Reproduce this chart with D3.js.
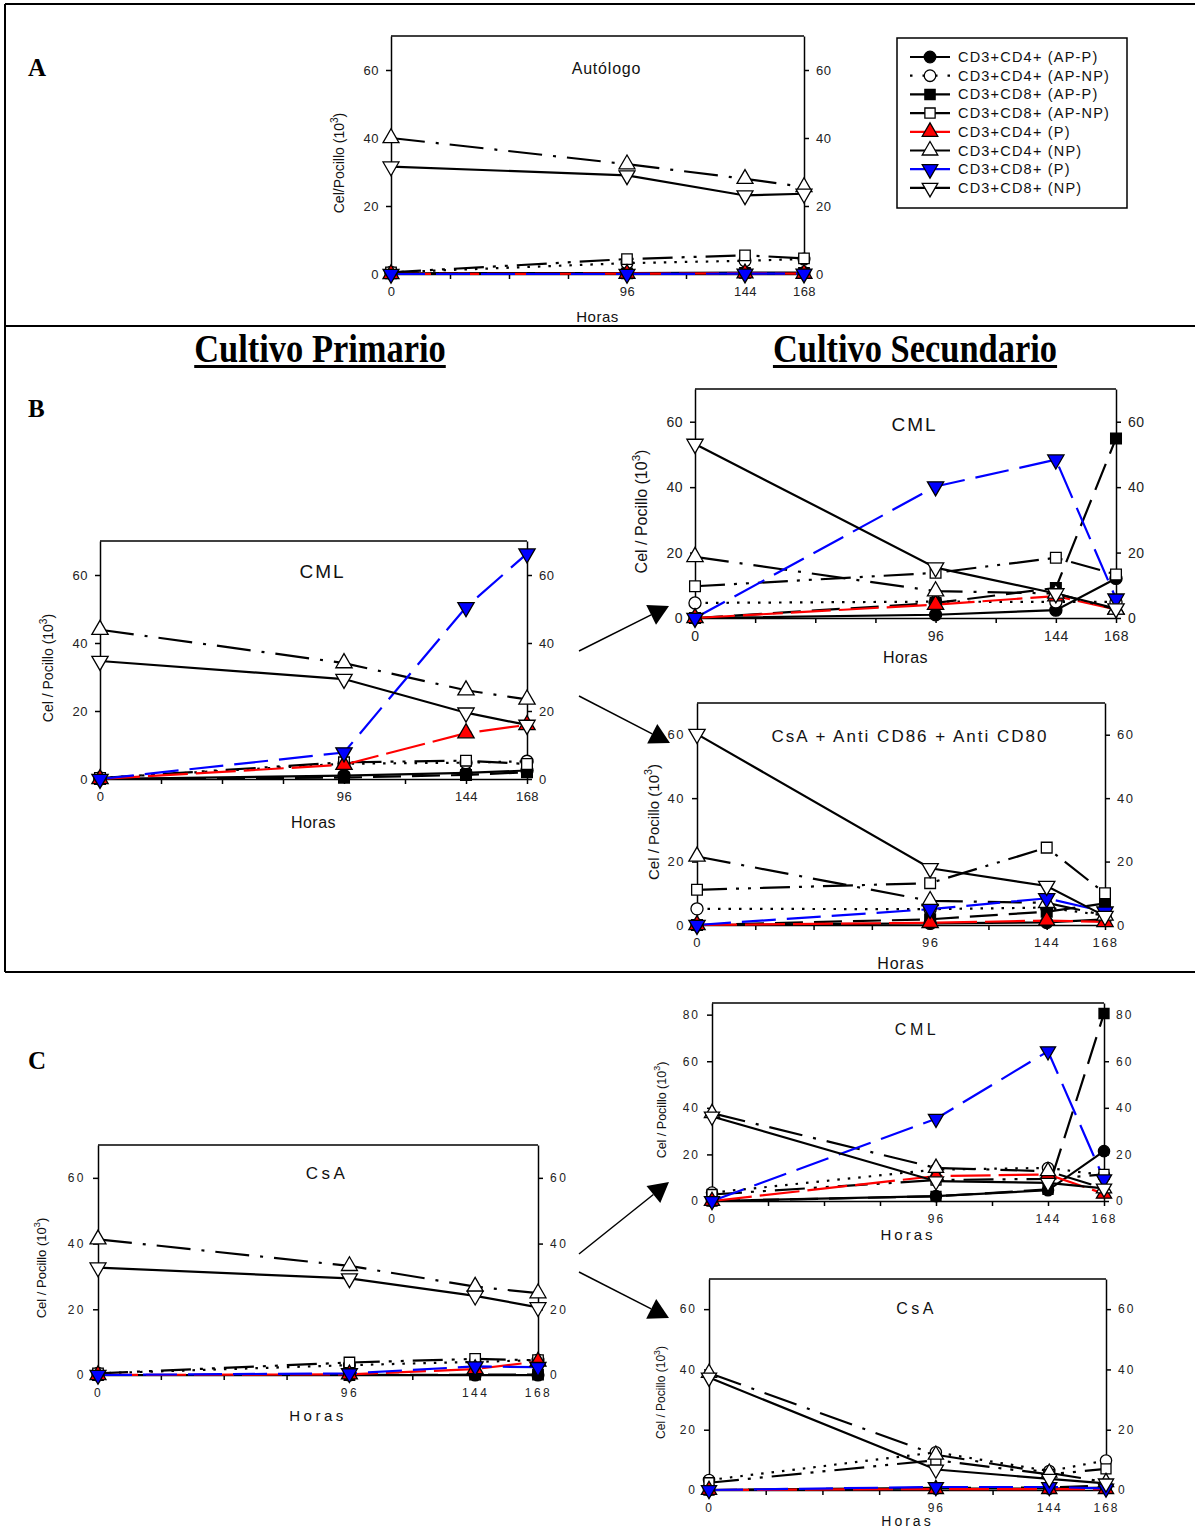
<!DOCTYPE html>
<html>
<head>
<meta charset="utf-8">
<script src="https://cdn.jsdelivr.net/npm/d3@7"></script>
<style>
  body { margin: 0; background: #fff; }
  svg { display: block; font-family: Arial, "Liberation Sans", sans-serif; }
</style>
</head>
<body>
<svg id="fig" width="1195" height="1530"></svg>
<script>
// ---- data ----
const hours = [0, 96, 144, 168];
const hourTicks = [0, 24, 48, 72, 96, 120, 144, 168];
const hourLabels = [0, 96, 144, 168];
const seriesNames = [
  'CD3+CD4+ (AP-P)', 'CD3+CD4+ (AP-NP)', 'CD3+CD8+ (AP-P)', 'CD3+CD8+ (AP-NP)',
  'CD3+CD4+ (P)', 'CD3+CD4+ (NP)', 'CD3+CD8+ (P)', 'CD3+CD8+ (NP)'
];

// each row follows seriesNames order, values in 10^3 cells / well at 0, 96, 144, 168 h
const autologo = [
  [0.2, 0.3, 0.4, 0.4],
  [0.5, 3.2, 3.9, 4.4],
  [0.2, 0.2, 0.3, 0.3],
  [0.5, 4.4, 5.5, 4.6],
  [0, 0.1, 0.2, 0.1],
  [40, 32.3, 28, 25.6],
  [0, 0, 0.1, 0.1],
  [31.6, 29, 23.1, 23.6]
];
const primCML = [
  [0, 1, 1.8, 2.5],
  [0.3, 4.5, 4.8, 5.2],
  [0, 0.4, 1.2, 2],
  [0.3, 4.9, 5.4, 4.4],
  [0, 4.2, 13.5, 15.9],
  [43.9, 34.1, 26.1, 23.4],
  [0, 7.8, 50.5, 66.3],
  [34.7, 29.4, 19.5, 15.9]
];
const secCML_B = [
  [0, 1, 2.4, 12.1],
  [4.6, 5, 4.9, 4.9],
  [0, 4.6, 9.2, 54.9],
  [9.7, 13.8, 18.4, 13.3],
  [0, 4.1, 6.7, 2.6],
  [18.7, 8.2, 7.5, 2.6],
  [0, 40.2, 48.4, 5.9],
  [53.2, 15.4, 7.5, 2.9]
];
const secCsaAnti = [
  [0, 0.5, 0.8, 1.8],
  [5.1, 5, 5.5, 3],
  [0, 1.8, 4.2, 6.8],
  [11.1, 13.2, 24.4, 10],
  [0, 0.7, 1.4, 1],
  [21.6, 7.6, 7, 3],
  [0, 5, 8.4, 4.2],
  [60.2, 17.9, 12.3, 2.8]
];
const primCsA = [
  [0, 0, 0, 0],
  [0.5, 3, 4, 4.5],
  [0, 0, 0.1, 0.1],
  [0.5, 3.8, 4.9, 4.5],
  [0, 0.2, 1.8, 4.1],
  [41.3, 33.2, 26.9, 24.9],
  [0, 0.5, 2.6, 2.4],
  [32.7, 29.4, 24.1, 20.6]
];
const secCML_C = [
  [0, 2.1, 4.6, 21.4],
  [3.6, 13.5, 14.2, 11.1],
  [0, 2, 5, 80.5],
  [2.8, 9, 9.5, 11.4],
  [0, 10.7, 11.4, 3.1],
  [37.7, 14.2, 12.8, 5.4],
  [0, 35.3, 64.3, 9.3],
  [36.3, 8.5, 7.8, 5.4]
];
const secCsA = [
  [0, 0.5, 0.5, 0.8],
  [3.3, 12.5, 6.3, 9.8],
  [0, 0.7, 0.8, 1.5],
  [2.4, 9.9, 5.2, 7],
  [0, 0.3, 0.3, 0.3],
  [38.8, 11.7, 5.7, 2.6],
  [0, 1, 1, 0.5],
  [37.3, 6.8, 3.7, 2.2]
];

// ---- styles for each series ----
const styles = [
  { sym: d3.symbolCircle, fill: '#000', line: '#000', dash: null },
  { sym: d3.symbolCircle, fill: '#fff', line: '#000', dash: '2.5,8' },
  { sym: d3.symbolSquare, fill: '#000', line: '#000', dash: '28,11' },
  { sym: d3.symbolSquare, fill: '#fff', line: '#000', dash: '30,9,3,9,3,9' },
  { sym: d3.symbolTriangle, fill: '#ff0000', line: '#ff0000', dash: '40,8' },
  { sym: d3.symbolTriangle, fill: '#fff', line: '#000', dash: '34,11,3,11' },
  { sym: d3.symbolTriangle, fill: '#0000ff', line: '#0000ff', dash: '34,11', flip: true },
  { sym: d3.symbolTriangle, fill: '#fff', line: '#000', dash: null, flip: true }
];

const svg = d3.select('#fig');

// frame lines of the figure
const frame = svg.append('g').attr('stroke', '#000').attr('stroke-width', 2);
frame.append('line').attr('x1', 5).attr('x2', 1195).attr('y1', 4).attr('y2', 4);
frame.append('line').attr('x1', 5).attr('x2', 5).attr('y1', 4).attr('y2', 972);
frame.append('line').attr('x1', 5).attr('x2', 1195).attr('y1', 326).attr('y2', 326);
frame.append('line').attr('x1', 5).attr('x2', 1195).attr('y1', 972).attr('y2', 972);

// panel letters and headings
const serif = '"Liberation Serif", "Times New Roman", serif';
[['A', 76], ['B', 417], ['C', 1069]].forEach(([t, y]) => {
  svg.append('text').attr('x', 28).attr('y', y).attr('font-family', serif)
    .attr('font-weight', 'bold').attr('font-size', 25).text(t);
});
[['Cultivo Primario', 320], ['Cultivo Secundario', 915]].forEach(([t, x]) => {
  const sx = 0.84;
  const h = svg.append('text').attr('x', x).attr('y', 362).attr('text-anchor', 'middle')
    .attr('font-family', serif).attr('font-weight', 'bold').attr('font-size', 41)
    .attr('transform', `translate(${x},0) scale(${sx},1) translate(${-x},0)`)
    .text(t);
  const w = h.node().getComputedTextLength() * sx;
  svg.append('rect').attr('x', x - w / 2).attr('y', 365).attr('width', w).attr('height', 3).attr('fill', '#000');
});

// arrows between primary and secondary cultures
function arrow(x1, y1, x2, y2) {
  const a = Math.atan2(y2 - y1, x2 - x1);
  const L = 20, W = 11;
  const bx = x2 - L * Math.cos(a), by = y2 - L * Math.sin(a);
  svg.append('line').attr('x1', x1).attr('y1', y1).attr('x2', bx).attr('y2', by)
    .attr('stroke', '#000').attr('stroke-width', 1.5);
  const pts = [[x2, y2],
    [bx + W * Math.sin(a), by - W * Math.cos(a)],
    [bx - W * Math.sin(a), by + W * Math.cos(a)]];
  svg.append('path').attr('d', d3.line()(pts) + 'Z').attr('fill', '#000');
}
arrow(579, 651, 669, 606);
arrow(579, 696, 670, 743);
arrow(579, 1254, 669, 1182);
arrow(579, 1272, 669, 1318);

// ---- panels ----
const panels = [
  { data: autologo, title: 'Autólogo', x0: 391, x1: 804, top: 36, y0: 274, ymax: 70, yt: [0, 20, 40, 60],
    ylab: 'Cel/Pocillo (10', ylx: 344, tfs: 16, tls: 0.8, lfs: 14, hfs: 15, hls: 0.5, fs: 13, fls: 0.5,
    ty: 74, hy: 322, msize: 110 },
  { data: primCML, title: 'CML', x0: 100, x1: 527, top: 541, y0: 779, ymax: 70, yt: [0, 20, 40, 60],
    ylab: 'Cel / Pocillo (10', ylx: 53, tfs: 19, tls: 2, lfs: 14, hfs: 16, hls: 0.5, fs: 13, fls: 0.5,
    ty: 578, hy: 828, msize: 115 },
  { data: secCML_B, title: 'CML', x0: 695, x1: 1116, top: 389, y0: 618, ymax: 70, yt: [0, 20, 40, 60],
    ylab: 'Cel / Pocillo (10', ylx: 647, tfs: 19, tls: 2, lfs: 16, hfs: 16, hls: 0.5, fs: 14, fls: 0.5,
    ty: 431, hy: 663, msize: 115 },
  { data: secCsaAnti, title: 'CsA + Anti CD86 + Anti CD80', x0: 697, x1: 1105, top: 703, y0: 925, ymax: 70, yt: [0, 20, 40, 60],
    ylab: 'Cel / Pocillo (10', ylx: 659, tfs: 17, tls: 2, lfs: 15, hfs: 16, hls: 1, fs: 13, fls: 1.5,
    ty: 742, hy: 969, msize: 115 },
  { data: primCsA, title: 'CsA', x0: 98, x1: 538, top: 1145, y0: 1375, ymax: 70, yt: [0, 20, 40, 60],
    ylab: 'Cel / Pocillo (10', ylx: 46, tfs: 17, tls: 3.5, lfs: 13, hfs: 15, hls: 3.5, fs: 12, fls: 2.5,
    ty: 1179, hy: 1421, msize: 110 },
  { data: secCML_C, title: 'CML', x0: 712, x1: 1104, top: 1003, y0: 1201, ymax: 85, yt: [0, 20, 40, 60, 80],
    ylab: 'Cel / Pocillo (10', ylx: 666, tfs: 16, tls: 3.5, lfs: 12.5, hfs: 15, hls: 3, fs: 12, fls: 2,
    ty: 1035, hy: 1240, msize: 100 },
  { data: secCsA, title: 'CsA', x0: 709, x1: 1106, top: 1279, y0: 1490, ymax: 70, yt: [0, 20, 40, 60],
    ylab: 'Cel / Pocillo (10', ylx: 665, tfs: 16, tls: 3.5, lfs: 12, hfs: 14, hls: 3, fs: 12, fls: 2,
    ty: 1314, hy: 1526, msize: 100 }
];

function drawPanel(p) {
  const g = svg.append('g');
  const x = d3.scaleLinear().domain([0, 168]).range([p.x0, p.x1]);
  const y = d3.scaleLinear().domain([0, p.ymax]).range([p.y0, p.top]);

  const styleAxis = sel => {
    sel.selectAll('path,line').attr('stroke', '#000').attr('stroke-width', 1.5);
    sel.selectAll('text').attr('font-size', p.fs).attr('letter-spacing', p.fls)
      .attr('fill', '#222').attr('font-family', 'Arial, "Liberation Sans", sans-serif');
  };

  g.append('g').attr('transform', `translate(0,${p.y0})`)
    .call(d3.axisBottom(x).tickValues(hourTicks).tickSize(5).tickSizeOuter(0).tickPadding(8)
      .tickFormat(d => hourLabels.includes(d) ? d : ''))
    .call(styleAxis);
  g.append('g').attr('transform', `translate(${p.x0},0)`)
    .call(d3.axisLeft(y).tickValues(p.yt).tickSize(5).tickSizeOuter(0).tickPadding(7))
    .call(styleAxis);
  g.append('g').attr('transform', `translate(${p.x1},0)`)
    .call(d3.axisRight(y).tickValues(p.yt).tickSize(5).tickSizeOuter(0).tickPadding(7))
    .call(styleAxis);
  g.append('line').attr('x1', p.x0).attr('x2', p.x1).attr('y1', p.top).attr('y2', p.top)
    .attr('stroke', '#000').attr('stroke-width', 1.5);

  // title and axis labels
  const cx = (p.x0 + p.x1) / 2;
  g.append('text').attr('x', cx + 9).attr('y', p.ty).attr('text-anchor', 'middle')
    .attr('font-size', p.tfs).attr('letter-spacing', p.tls).attr('fill', '#111').text(p.title);
  g.append('text').attr('x', cx).attr('y', p.hy).attr('text-anchor', 'middle')
    .attr('font-size', p.hfs).attr('letter-spacing', p.hls).attr('fill', '#111').text('Horas');
  const yl = g.append('text').attr('text-anchor', 'middle').attr('font-size', p.lfs).attr('fill', '#111')
    .attr('transform', `translate(${p.ylx},${(p.top + p.y0) / 2 + 8}) rotate(-90)`);
  yl.append('tspan').text(p.ylab);
  yl.append('tspan').attr('dy', -p.lfs * 0.45).attr('font-size', p.lfs * 0.72).text('3');
  yl.append('tspan').attr('dy', p.lfs * 0.45).text(')');

  const line = d3.line().x((d, i) => x(hours[i])).y(d => y(d));

  p.data.forEach((vals, s) => {
    const st = styles[s];
    g.append('path').datum(vals).attr('d', line).attr('fill', 'none')
      .attr('stroke', st.line).attr('stroke-width', 2.2)
      .attr('stroke-dasharray', st.dash);
  });
  p.data.forEach((vals, s) => {
    const st = styles[s];
    g.selectAll(null).data(vals).enter().append('path')
      .attr('d', d3.symbol(st.sym, p.msize))
      .attr('transform', (d, i) => `translate(${x(hours[i])},${y(d)})${st.flip ? ' rotate(180)' : ''}`)
      .attr('fill', st.fill).attr('stroke', '#000').attr('stroke-width', 1.3);
  });
}
panels.forEach(drawPanel);

// legend
const lg = svg.append('g');
lg.append('rect').attr('x', 897).attr('y', 38).attr('width', 230).attr('height', 170)
  .attr('fill', '#fff').attr('stroke', '#000').attr('stroke-width', 1.5);
seriesNames.forEach((name, i) => {
  const st = styles[i];
  const yy = 57 + i * 18.7;
  lg.append('line').attr('x1', 910).attr('x2', 950).attr('y1', yy).attr('y2', yy)
    .attr('stroke', st.line).attr('stroke-width', 2.2)
    .attr('stroke-dasharray', i === 1 ? '2.5,10' : null);
  lg.append('path').attr('d', d3.symbol(st.sym, 105))
    .attr('transform', `translate(930,${yy})${st.flip ? ' rotate(180)' : ''}`)
    .attr('fill', st.fill).attr('stroke', '#000').attr('stroke-width', 1.3);
  lg.append('text').attr('x', 958).attr('y', yy + 5).attr('font-size', 14.5)
    .attr('letter-spacing', 1.2).attr('fill', '#111').text(name);
});
</script>
</body>
</html>
